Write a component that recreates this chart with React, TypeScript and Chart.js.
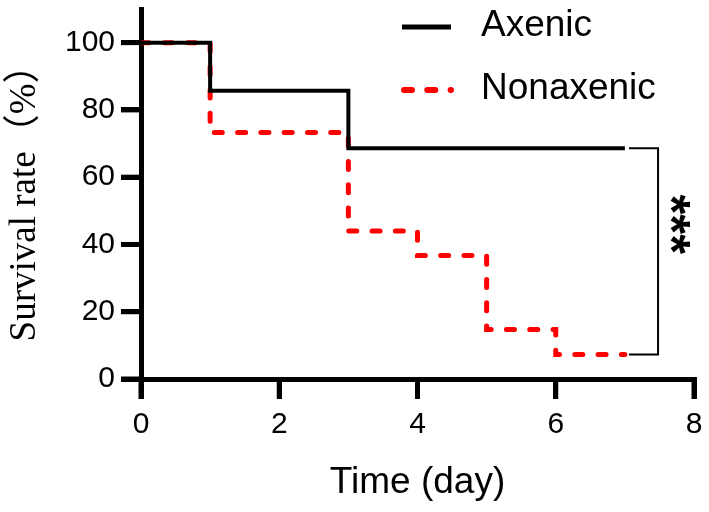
import { useEffect, useRef } from 'react'
import { Chart, registerables } from 'chart.js'

Chart.register(...registerables)

// survival curves (Kaplan-Meier steps)
const axenicDays = [0, 1, 3, 7]
const axenicSurvival = [100, 85.7, 68.6, 68.6]
const nonaxenicDays = [0, 1, 3, 4, 5, 6, 7]
const nonaxenicSurvival = [100, 73.3, 44.0, 36.7, 14.7, 7.3, 7.3]

const seriesLabels = ['Axenic', 'Nonaxenic']
const xTicks = [0, 2, 4, 6, 8]
const yTicks = [0, 20, 40, 60, 80, 100]
const significance = '***'

const SANS = "'Liberation Sans', Arial, sans-serif"
const SERIF = "'Liberation Serif', 'Noto Sans CJK SC', serif"
const TICK_LEN = 20

const annotations = {
  id: 'survivalAnnotations',
  afterDraw(chart: any) {
    const { ctx, scales } = chart
    const x = scales.x
    const y = scales.y
    const area = chart.chartArea

    // outward tick marks
    ctx.save()
    ctx.strokeStyle = '#000'
    ctx.lineWidth = 5
    ctx.lineCap = 'butt'
    x.ticks.forEach((t: any) => {
      const px = x.getPixelForValue(t.value)
      ctx.beginPath()
      ctx.moveTo(px, area.bottom)
      ctx.lineTo(px, area.bottom + TICK_LEN)
      ctx.stroke()
    })
    y.ticks.forEach((t: any) => {
      const py = y.getPixelForValue(t.value)
      ctx.beginPath()
      ctx.moveTo(area.left, py)
      ctx.lineTo(area.left - TICK_LEN, py)
      ctx.stroke()
    })
    ctx.restore()

    // bracket between the two curve ends
    const yTop = y.getPixelForValue(axenicSurvival[axenicSurvival.length - 1])
    const yBottom = y.getPixelForValue(nonaxenicSurvival[nonaxenicSurvival.length - 1])
    const x0 = x.getPixelForValue(7.06)
    const x1 = x.getPixelForValue(7.48)
    ctx.save()
    ctx.strokeStyle = '#000'
    ctx.lineWidth = 2
    ctx.beginPath()
    ctx.moveTo(x0, yTop)
    ctx.lineTo(x1, yTop)
    ctx.lineTo(x1, yBottom)
    ctx.lineTo(x0, yBottom)
    ctx.stroke()
    ctx.restore()

    // stars, rotated
    ctx.save()
    ctx.translate(x.getPixelForValue(7.8), y.getPixelForValue(46))
    ctx.rotate(Math.PI / 2)
    ctx.font = `bold 51px ${SANS}`
    ctx.fillStyle = '#000'
    ctx.textAlign = 'center'
    ctx.textBaseline = 'alphabetic'
    const m = ctx.measureText(significance)
    ctx.fillText(significance, 0, (m.actualBoundingBoxAscent - m.actualBoundingBoxDescent) / 2)
    ctx.restore()

    // legend, top right
    chart.data.datasets.forEach((ds: any, i: number) => {
      const rowY = 26 + i * 63
      ctx.save()
      ctx.strokeStyle = ds.borderColor
      ctx.lineWidth = ds.borderWidth + 1
      ctx.lineCap = ds.borderCapStyle || 'butt'
      ctx.setLineDash(ds.borderDash || [])
      ctx.beginPath()
      ctx.moveTo(i === 0 ? 402 : 404, rowY + 1)
      ctx.lineTo(451, rowY + 1)
      ctx.stroke()
      ctx.setLineDash([])
      ctx.fillStyle = '#000'
      ctx.font = `37px ${SANS}`
      ctx.textAlign = 'left'
      ctx.textBaseline = 'middle'
      ctx.fillText(ds.label, 481, rowY)
      ctx.restore()
    })
  },
}

export default function App() {
  const canvasRef = useRef<HTMLCanvasElement>(null)
  const chartRef = useRef<Chart | null>(null)

  useEffect(() => {
    document.body.style.margin = '0'
    if (!canvasRef.current) return
    const ctx = canvasRef.current.getContext('2d')
    if (!ctx) return

    chartRef.current = new Chart(ctx, {
      type: 'line',
      data: {
        datasets: [
          {
            label: seriesLabels[0],
            data: axenicDays.map((d, i) => ({ x: d, y: axenicSurvival[i] })),
            borderColor: '#000000',
            borderWidth: 4,
            stepped: 'before',
            pointRadius: 0,
            fill: false,
            borderJoinStyle: 'miter',
          },
          {
            label: seriesLabels[1],
            data: nonaxenicDays.map((d, i) => ({ x: d, y: nonaxenicSurvival[i] })),
            borderColor: '#ff0000',
            borderWidth: 5,
            borderDash: [8, 15.3],
            borderCapStyle: 'round',
            stepped: 'before',
            pointRadius: 0,
            fill: false,
          },
        ],
      },
      options: {
        responsive: false,
        animation: false,
        layout: { padding: { top: 9, right: 15, left: 0, bottom: 0 } },
        plugins: {
          legend: { display: false },
          tooltip: { enabled: false },
        },
        scales: {
          x: {
            type: 'linear',
            min: 0,
            max: 8,
            afterBuildTicks: (scale: any) => {
              scale.ticks = xTicks.map((v) => ({ value: v }))
            },
            afterFit: (scale: any) => {
              scale.height = 133
              scale.paddingLeft = 0
              scale.paddingRight = 0
            },
            border: { display: true, color: '#000', width: 5 },
            grid: {
              drawOnChartArea: false,
              color: '#000',
              lineWidth: 5,
              tickLength: TICK_LEN,
              tickColor: '#000',
              tickWidth: 5,
            },
            ticks: {
              color: '#000',
              font: { family: SANS, size: 30 },
              padding: 8,
              maxRotation: 0,
            },
            title: {
              display: true,
              text: 'Time (day)',
              color: '#000',
              font: { family: SANS, size: 37 },
              padding: { top: 0, bottom: 7 },
            },
          },
          y: {
            type: 'linear',
            min: 0,
            max: 110,
            afterBuildTicks: (scale: any) => {
              scale.ticks = yTicks.map((v) => ({ value: v }))
            },
            afterFit: (scale: any) => {
              scale.width = 141
              scale.paddingTop = 0
              scale.paddingBottom = 0
            },
            border: { display: true, color: '#000', width: 5 },
            grid: {
              drawOnChartArea: false,
              color: '#000',
              lineWidth: 5,
              tickLength: TICK_LEN,
              tickColor: '#000',
              tickWidth: 5,
            },
            ticks: {
              color: '#000',
              font: { family: SANS, size: 30 },
              padding: 6,
            },
            title: {
              display: true,
              text: 'Survival rate（%）',
              color: '#000',
              font: { family: SERIF, size: 37 },
              padding: { top: 3, bottom: 0 },
            },
          },
        },
      },
      plugins: [annotations],
    })

    return () => {
      if (chartRef.current) {
        chartRef.current.destroy()
        chartRef.current = null
      }
    }
  }, [])

  return (
    <div style={{ width: 709, height: 512 }}>
      <canvas ref={canvasRef} width={709} height={512}></canvas>
    </div>
  )
}
